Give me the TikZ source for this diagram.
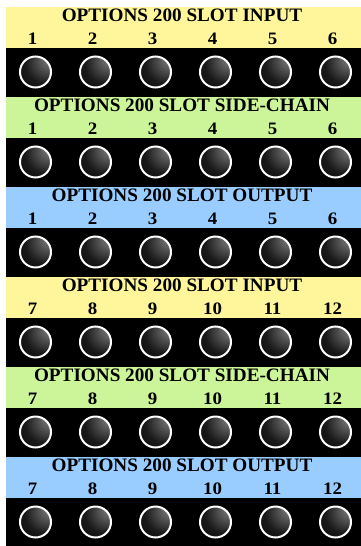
\documentclass[tikz,border=0pt]{standalone}
\usepackage{fontspec}
\setmainfont{Liberation Serif}
\usepackage{graphicx}
\usepackage{tikz}

\definecolor{inyel}{RGB}{255,246,156}
\definecolor{scgrn}{RGB}{204,245,153}
\definecolor{outblu}{RGB}{153,204,255}
\pgfdeclareradialshading{knobshade}{\pgfpoint{30bp}{27bp}}{color(0bp)=(black!22); color(10bp)=(black!58); color(30bp)=(black!90); color(55bp)=(black)}
\newcommand{\wide}[2]{\scalebox{#1}[1]{#2}}

\begin{document}
\begin{tikzpicture}[x=1pt, y=-1pt,
	every node/.style={inner sep=0pt},
	title/.style={font=\fontsize{19}{19}\selectfont\bfseries, anchor=base},
	num/.style={font=\fontsize{17.5}{17.5}\selectfont\bfseries, anchor=base},
	knob/.style={draw=white, line width=2pt, shading=knobshade}]
	\useasboundingbox (0,0) rectangle (361,546);
	\foreach \band/\name/\first [count=\s from 0] in {inyel/INPUT/1, scgrn/SIDE-CHAIN/1, outblu/OUTPUT/1, inyel/INPUT/7, scgrn/SIDE-CHAIN/7, outblu/OUTPUT/7} {
		\pgfmathsetmacro{\top}{7+90*\s}
		\fill[\band] (6,\top) rectangle (361,\top+41);
		\fill[black] (6,\top+41) rectangle (361,\top+90);
		\node[title] (title\s) at (182,\top+14.7) {\wide{1.01}{OPTIONS 200 SLOT \name}};
		\foreach \k in {0,...,5} {
			\pgfmathtruncatemacro{\n}{\first+\k}
			\node[num] (num\s-\k) at (32.5+60*\k,\top+37.5) {\wide{1.08}{\n}};
			\path[knob] (35.5+60*\k,\top+65) circle (15.5);
		}
	}
\end{tikzpicture}
\end{document}
